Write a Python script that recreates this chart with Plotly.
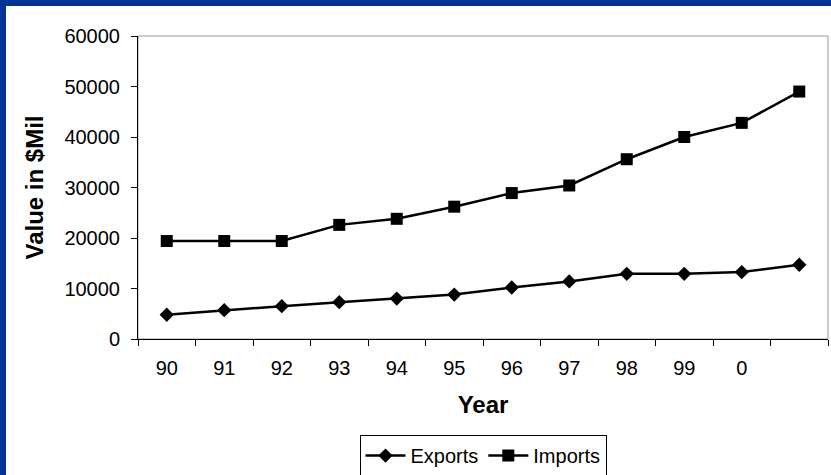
import plotly.graph_objects as go

# Données
years = ["90", "91", "92", "93", "94", "95", "96", "97", "98", "99", "0", " "]
exports = [4800, 5700, 6500, 7300, 8000, 8800, 10200, 11400, 12900, 12900, 13250, 14700]
imports = [19400, 19400, 19400, 22600, 23800, 26200, 28900, 30400, 35600, 40000, 42800, 49000]

FONT = "Liberation Sans, Arial, sans-serif"
BLUE = "#003399"

fig = go.Figure()
fig.add_trace(go.Scatter(
    x=years, y=exports, name="Exports", mode="lines+markers",
    line=dict(color="black", width=2.5),
    marker=dict(symbol="diamond", size=11, color="black"),
))
fig.add_trace(go.Scatter(
    x=years, y=imports, name="Imports", mode="lines+markers",
    line=dict(color="black", width=2.5),
    marker=dict(symbol="square", size=12, color="black"),
))

# Cadre gris du haut et de droite
fig.add_shape(type="rect", xref="paper", yref="paper", x0=0, x1=1, y0=0, y1=1,
              line=dict(color="#9a9a9a", width=1), layer="below")

# Bande bleue (haut et gauche) de la diapositive
pw, ph = 831 - 138 - 3, 475 - 36 - 136
fig.add_shape(type="rect", xref="paper", yref="paper",
              x0=-138 / pw, x1=-132 / pw, y0=-136 / ph, y1=1 + 36 / ph,
              fillcolor=BLUE, line_width=0)
fig.add_shape(type="rect", xref="paper", yref="paper",
              x0=-138 / pw, x1=1 + 3 / pw, y0=1 + 30 / ph, y1=1 + 36 / ph,
              fillcolor=BLUE, line_width=0)

fig.update_layout(
    width=831, height=475,
    margin=dict(l=138, r=3, t=36, b=136, autoexpand=False),
    paper_bgcolor="white", plot_bgcolor="white",
    font=dict(family=FONT, size=20, color="black"),
    showlegend=True,
    legend=dict(
        orientation="h", x=0.5, xanchor="center", y=-0.317, yanchor="top",
        bordercolor="black", borderwidth=1, itemwidth=40,
        font=dict(size=20),
    ),
    xaxis=dict(
        type="category", categoryorder="array", categoryarray=years,
        range=[-0.5, len(years) - 0.5],
        showline=True, linecolor="black", linewidth=1,
        ticks="outside", ticklen=6, tickcolor="black", tickson="boundaries",
        ticklabelstandoff=11,
        showgrid=False, zeroline=False,
        title=dict(text="<b>Year</b>", standoff=18),
    ),
    yaxis=dict(
        range=[0, 60000], dtick=10000, tickformat="d",
        showline=True, linecolor="black", linewidth=1,
        ticks="outside", ticklen=6, tickcolor="black",
        ticklabelstandoff=7,
        showgrid=False, zeroline=False,
        title=dict(text="<b>Value in $Mil</b>", standoff=13),
    ),
)

# marge du body à zéro pour que la figure occupe toute la fenêtre
fig.write_html("out.html", config={"displayModeBar": False},
               post_script="document.body.style.margin='0px';")
